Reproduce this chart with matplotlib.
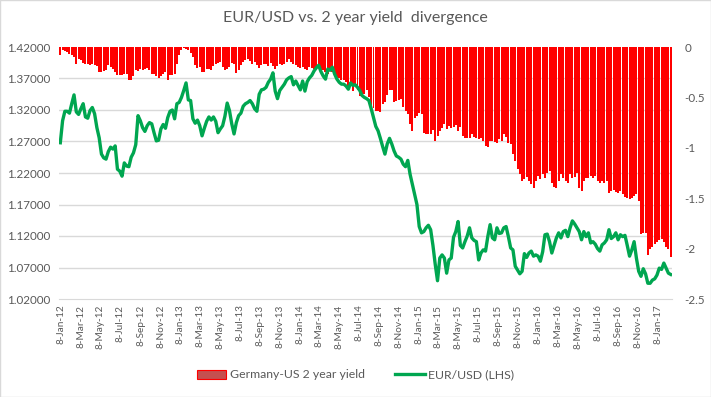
import matplotlib
matplotlib.use("Agg")
import matplotlib.pyplot as plt
from matplotlib.patches import Rectangle
import pandas as pd

plt.rcParams['font.family'] = ['Lato', 'DejaVu Sans']

# ---- data (weekly, Fridays) ----
start_date = "2012-01-06"
eurusd = [
    1.268, 1.303, 1.318, 1.318, 1.315, 1.330, 1.344, 1.317, 1.313, 1.322,
    1.330, 1.309, 1.307, 1.319, 1.324, 1.314, 1.292, 1.276, 1.250, 1.244,
    1.242, 1.254, 1.261, 1.258, 1.263, 1.226, 1.223, 1.215, 1.236, 1.231,
    1.230, 1.245, 1.252, 1.265, 1.311, 1.303, 1.292, 1.286, 1.295, 1.300,
    1.298, 1.284, 1.271, 1.272, 1.290, 1.297, 1.291, 1.308, 1.318, 1.320,
    1.306, 1.330, 1.332, 1.340, 1.351, 1.363, 1.336, 1.335, 1.306, 1.299,
    1.304, 1.295, 1.279, 1.291, 1.302, 1.309, 1.304, 1.309, 1.302, 1.284,
    1.290, 1.295, 1.310, 1.331, 1.319, 1.298, 1.282, 1.300, 1.311, 1.315,
    1.326, 1.330, 1.332, 1.335, 1.330, 1.322, 1.318, 1.345, 1.352, 1.353,
    1.356, 1.364, 1.369, 1.379, 1.350, 1.338, 1.351, 1.356, 1.361, 1.368,
    1.371, 1.373, 1.360, 1.366, 1.359, 1.352, 1.366, 1.350, 1.365, 1.371,
    1.375, 1.382, 1.387, 1.391, 1.381, 1.374, 1.369, 1.385, 1.383, 1.388,
    1.377, 1.369, 1.364, 1.361, 1.361, 1.358, 1.353, 1.363, 1.359, 1.360,
    1.356, 1.351, 1.343,
    1.340, 1.338, 1.335, 1.322, 1.308, 1.294, 1.287,
    1.275, 1.262, 1.250, 1.266, 1.275, 1.266, 1.255, 1.247, 1.245, 1.242,
    1.234, 1.230, 1.240, 1.218, 1.202, 1.186, 1.170, 1.135, 1.125, 1.127,
    1.133, 1.137, 1.130, 1.105, 1.075, 1.049, 1.085, 1.090, 1.085, 1.061,
    1.082, 1.085, 1.118, 1.127, 1.143, 1.105, 1.101, 1.111, 1.120, 1.133,
    1.117, 1.113, 1.111, 1.082, 1.093, 1.098, 1.096, 1.119, 1.138, 1.117,
    1.114, 1.133, 1.124, 1.125, 1.133, 1.135, 1.119, 1.101, 1.098, 1.072,
    1.066, 1.060, 1.064, 1.092, 1.086, 1.093, 1.096, 1.088, 1.090, 1.088,
    1.080, 1.095, 1.122, 1.123, 1.111, 1.093, 1.105, 1.117, 1.125, 1.117,
    1.127, 1.129, 1.119, 1.133, 1.144, 1.139, 1.133, 1.127, 1.114, 1.127,
    1.119, 1.125, 1.109, 1.111, 1.107, 1.100, 1.096, 1.106, 1.109, 1.114,
    1.130, 1.116, 1.119, 1.125, 1.114, 1.122, 1.119, 1.121, 1.105, 1.088,
    1.098, 1.111, 1.085, 1.064, 1.056, 1.068, 1.060, 1.045, 1.045, 1.050,
    1.052, 1.058, 1.069, 1.067, 1.077, 1.069, 1.061, 1.059,
]
yield_diff = [
    -0.08, -0.03, -0.04, -0.05, -0.07, -0.08, -0.10, -0.17, -0.12, -0.13,
    -0.16, -0.17, -0.17, -0.18, -0.17, -0.18, -0.19, -0.25, -0.25, -0.24,
    -0.23, -0.18, -0.20, -0.22, -0.25, -0.28, -0.28, -0.28, -0.27, -0.27,
    -0.33, -0.33, -0.29, -0.23, -0.24, -0.22, -0.23, -0.22, -0.21, -0.23,
    -0.27, -0.27, -0.29, -0.31, -0.29, -0.27, -0.25, -0.33, -0.28, -0.28,
    -0.27, -0.17, -0.08, -0.03, -0.01, -0.02, -0.03, -0.06, -0.10, -0.18,
    -0.21, -0.20, -0.25, -0.25, -0.22, -0.22, -0.23, -0.19, -0.17, -0.16,
    -0.15, -0.20, -0.23, -0.22, -0.20, -0.16, -0.17, -0.26, -0.23, -0.18,
    -0.15, -0.13, -0.12, -0.14, -0.17, -0.15, -0.18, -0.21, -0.18, -0.17,
    -0.17, -0.19, -0.16, -0.19, -0.22, -0.19, -0.17, -0.18, -0.17, -0.15,
    -0.12, -0.15, -0.17, -0.18, -0.20, -0.21, -0.20, -0.22, -0.23, -0.20,
    -0.21, -0.22, -0.21, -0.20, -0.23, -0.23, -0.25, -0.27, -0.24, -0.25,
    -0.27, -0.30, -0.31, -0.33, -0.33, -0.35, -0.40, -0.37, -0.44, -0.39,
    -0.43, -0.49, -0.47,
    -0.47, -0.43, -0.50, -0.58, -0.61, -0.63, -0.63,
    -0.64, -0.57, -0.55, -0.48, -0.43, -0.43, -0.55, -0.54, -0.53, -0.52,
    -0.60, -0.63, -0.66, -0.76, -0.83, -0.70, -0.68, -0.65, -0.66, -0.85,
    -0.86, -0.86, -0.86, -0.82, -0.93, -0.88, -0.83, -0.80, -0.76, -0.81,
    -0.78, -0.80, -0.79, -0.77, -0.83, -0.79, -0.88, -0.90, -0.90, -0.90,
    -0.86, -0.89, -0.90, -0.91, -0.90, -0.93, -0.98, -0.99, -0.93, -0.93,
    -0.94, -0.95, -0.91, -0.93, -0.86, -0.89, -0.95, -0.96, -1.06, -1.13,
    -1.21, -1.26, -1.33, -1.31, -1.29, -1.33, -1.36, -1.40, -1.33, -1.28,
    -1.31, -1.26, -1.30, -1.25, -1.23, -1.35, -1.39, -1.40, -1.33, -1.26,
    -1.30, -1.33, -1.35, -1.26, -1.30, -1.29, -1.25, -1.40, -1.43, -1.33,
    -1.30, -1.30, -1.28, -1.30, -1.28, -1.33, -1.35, -1.33, -1.35, -1.33,
    -1.45, -1.43, -1.42, -1.44, -1.45, -1.43, -1.46, -1.49, -1.50, -1.51,
    -1.50, -1.48, -1.46, -1.53, -1.86, -1.85, -1.85, -2.06, -2.00, -1.98,
    -1.95, -1.93, -1.91, -1.90, -1.93, -1.98, -2.00, -2.08,
]
left_ticks = [1.02, 1.07, 1.12, 1.17, 1.22, 1.27, 1.32, 1.37, 1.42]
right_ticks = [0, -0.5, -1, -1.5, -2, -2.5]
right_labels = ["0", "-0.5", "-1", "-1.5", "-2", "-2.5"]
title = "EUR/USD vs. 2 year yield  divergence"
bar_label = "Germany-US 2 year yield"
line_label = "EUR/USD (LHS)"

dates = pd.date_range(start_date, periods=len(eurusd), freq="7D")

# ---- figure ----
W, H, DPI = 711, 397, 100
fig = plt.figure(figsize=(W / DPI, H / DPI), dpi=DPI)
fig.patch.set_facecolor("white")

ax = fig.add_axes([59 / W, 1 - 299 / H, (672 - 59) / W, (299 - 47) / H])
ax2 = ax.twinx()

grey = "#595959"
gridc = "#D9D9D9"

# bars on right axis
ax2.bar(dates, yield_diff, width=6.1, color="#FF0000", linewidth=0,
        label=bar_label, zorder=2)
ax2.set_ylim(-2.5, 0)
ax2.set_yticks(right_ticks)
ax2.set_yticklabels(right_labels)
# gridlines at left-axis tick levels, drawn under the bars
lo, hi = left_ticks[0], left_ticks[-1]
grid_pos = [-2.5 + 2.5 * (t - lo) / (hi - lo) for t in left_ticks]
ax2.set_yticks(grid_pos, minor=True)
ax2.tick_params(axis="y", which="minor", length=0)
ax2.grid(which="minor", axis="y", color=gridc, linewidth=1.0)
ax2.set_axisbelow(True)

# line on left axis, drawn on top
ax.set_zorder(ax2.get_zorder() + 1)
ax.patch.set_visible(False)
ax.plot(dates, eurusd, color="#00A650", linewidth=2.4, label=line_label,
        solid_joinstyle="round", zorder=3)
ax.set_ylim(lo, hi)
ax.set_yticks(left_ticks)
ax.set_yticklabels([f"{t:.5f}" for t in left_ticks])

ax.set_xlim(pd.Timestamp("2012-01-02"), pd.Timestamp("2017-02-21"))
xt = pd.date_range("2012-01-01", "2017-01-01", freq="2MS") + pd.Timedelta(days=7)
ax.set_xticks(xt)
ax.set_xticklabels([f"{d.day}-{d.strftime('%b-%y')}" for d in xt],
                   rotation=90, fontsize=7.2, color=grey)

for a in (ax, ax2):
    for s in a.spines.values():
        s.set_visible(False)
ax.spines["bottom"].set_visible(True)
ax.spines["bottom"].set_color(gridc)

ax.tick_params(axis="y", length=0, labelsize=8.4, labelcolor=grey, pad=6)
ax2.tick_params(axis="y", which="major", length=0, labelsize=8.4,
                labelcolor=grey, pad=9)
ax.tick_params(axis="x", length=0, pad=4)
ax2.tick_params(axis="x", length=0, labelbottom=False)

fig.text(0.5, 1 - 18 / H, title, ha="center", va="center",
         fontsize=11.5, color=grey)

h1, l1 = ax2.get_legend_handles_labels()
h2, l2 = ax.get_legend_handles_labels()
leg = fig.legend(h1 + h2, l1 + l2, loc="center", ncol=2,
                 bbox_to_anchor=(0.5, 1 - 375 / H), frameon=False,
                 fontsize=8.8, handlelength=2.4, handleheight=0.75,
                 handletextpad=0.3, columnspacing=2.5)
for t in leg.get_texts():
    t.set_color(grey)
leg.legend_handles[0].set_facecolor("#C55050")
leg.legend_handles[0].set_edgecolor("#FF0000")
leg.legend_handles[0].set_linewidth(0.8)

fig.patches.append(Rectangle((0.0007, 0.0012), 0.9986, 0.9976,
                             transform=fig.transFigure, fill=False,
                             edgecolor=gridc, linewidth=1.0))

fig.savefig("out.png", dpi=DPI)
